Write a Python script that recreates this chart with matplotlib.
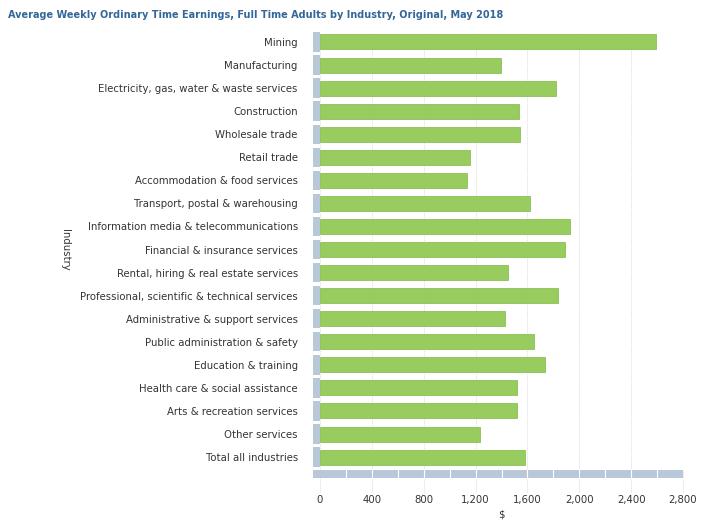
import matplotlib
matplotlib.use("Agg")
import matplotlib.pyplot as plt
from matplotlib.patches import Rectangle
import matplotlib.transforms as mtransforms

industries = [
    "Mining", "Manufacturing", "Electricity, gas, water & waste services",
    "Construction", "Wholesale trade", "Retail trade",
    "Accommodation & food services", "Transport, postal & warehousing",
    "Information media & telecommunications", "Financial & insurance services",
    "Rental, hiring & real estate services",
    "Professional, scientific & technical services",
    "Administrative & support services", "Public administration & safety",
    "Education & training", "Health care & social assistance",
    "Arts & recreation services", "Other services", "Total all industries",
]
earnings = [2592, 1397, 1821, 1535, 1543, 1157, 1134, 1620, 1929, 1890,
            1451, 1836, 1427, 1651, 1736, 1520, 1522, 1235, 1584]
xticks = [0, 400, 800, 1200, 1600, 2000, 2400, 2800]

fig = plt.figure(figsize=(7.08, 5.31), dpi=100)
ax = fig.add_axes([320/708, 1-470/531, 363/708, 437/531])

n = len(industries)
ypos = list(range(n))
ax.barh(ypos, earnings, height=0.65, color="#99CC5F", edgecolor="#8CBF55",
        linewidth=0.6, zorder=3)
# left stubs (pseudo-3D base)
for y in ypos:
    ax.add_patch(Rectangle((-55, y-0.42), 55, 0.84, facecolor="#B8C8D8",
                           edgecolor="none", clip_on=False, zorder=2))
ax.set_ylim(n-1+0.56, -0.39)
ax.set_xlim(0, 2800)
# bottom band (below axes)
trans = mtransforms.blended_transform_factory(ax.transData, ax.transAxes)
band_h = 8/437
ax.add_patch(Rectangle((-55, -band_h), 2855, band_h, facecolor="#B8C8D8",
                       edgecolor="none", clip_on=False, zorder=2, transform=trans))
for v in range(200, 2800, 200):
    ax.plot([v, v], [-band_h, 0], transform=trans, color="white",
            linewidth=0.8, clip_on=False, zorder=2.5)
for v in xticks:
    ax.plot([v, v], [-band_h - 14/437, 0], transform=trans, color="#DDDDDD",
            linewidth=0.7, linestyle=(0, (1, 1)), clip_on=False, zorder=1)

ax.set_yticks(ypos)
ax.set_yticklabels(industries, fontsize=7.3, color="#333333")
ax.set_xticks(xticks)
ax.set_xticklabels([f"{v:,}" for v in xticks], fontsize=7.3, color="#333333")
ax.tick_params(axis="y", length=0, pad=16)
ax.tick_params(axis="x", length=0, pad=18)
ax.grid(axis="x", color="#DDDDDD", linestyle=(0, (1, 1)), linewidth=0.7, zorder=0)
for s in ax.spines.values():
    s.set_visible(False)
ax.set_xlabel("$", fontsize=7.3, color="#333333", labelpad=3)
fig.text(65/708, 1-250/531, "Industry", rotation=270, fontsize=7.3,
         color="#333333", ha="center", va="center")
fig.text(8/708, 1-15/531,
         "Average Weekly Ordinary Time Earnings, Full Time Adults by Industry, Original, May 2018",
         fontsize=7.05, fontweight="bold", color="#336699", ha="left", va="center")
fig.savefig("out.png", dpi=100)
